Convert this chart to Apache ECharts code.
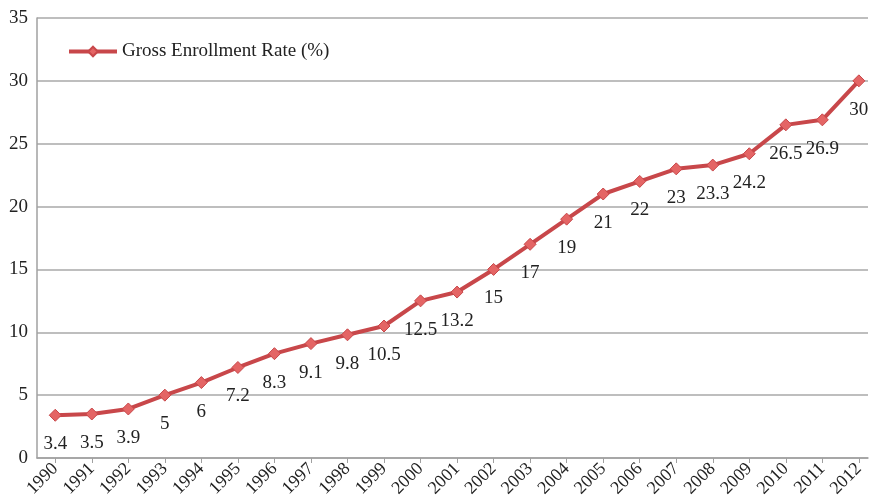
<!DOCTYPE html>
<html>
<head>
<meta charset="utf-8">
<script src="https://cdn.jsdelivr.net/npm/echarts@6/dist/echarts.min.js"></script>
<style>html,body{margin:0;padding:0;background:#fff}#c{width:872px;height:500px}</style>
</head>
<body>
<div id="c"></div>
<script>
var years = [1990,1991,1992,1993,1994,1995,1996,1997,1998,1999,2000,2001,2002,2003,2004,2005,2006,2007,2008,2009,2010,2011,2012];
var rates = [3.4,3.5,3.9,5,6,7.2,8.3,9.1,9.8,10.5,12.5,13.2,15,17,19,21,22,23,23.3,24.2,26.5,26.9,30];
var seriesName = 'Gross Enrollment Rate (%)';

var font = 'Liberation Serif, Times New Roman, serif';
var chart = echarts.init(document.getElementById('c'), null, {renderer:'canvas'});
chart.setOption({
  animation: false,
  backgroundColor: '#fff',
  grid: {left: 37, top: 18, right: 4, bottom: 42, containLabel: false},
  legend: {
    left: 62, top: 37, itemWidth: 48, itemHeight: 12, itemGap: 8,
    lineStyle: {width: 4, color: '#c8474a'},
    textStyle: {fontFamily: font, fontSize: 19, color: '#222'},
    data: [seriesName]
  },
  xAxis: {
    type: 'value', min: 1989.5, max: 2012.25,
    axisLine: {show: true, lineStyle: {color: '#a0a0a0', width: 1.5}},
    axisTick: {show: true, length: 5, customValues: years, lineStyle: {color: '#a0a0a0', width: 1}},
    axisLabel: {customValues: years, rotate: 45, margin: 8, fontFamily: font, fontSize: 18, color: '#222',
      formatter: function(v){ return String(v); }},
    splitLine: {show: false}
  },
  yAxis: {
    type: 'value', min: 0, max: 35, interval: 5,
    axisLine: {show: true, lineStyle: {color: '#a0a0a0', width: 1.5}},
    axisTick: {show: false},
    axisLabel: {margin: 9, fontFamily: font, fontSize: 19, color: '#222'},
    splitLine: {show: true, lineStyle: {color: '#a8a8a8', width: 1.5}}
  },
  series: [{
    name: seriesName,
    type: 'line',
    data: years.map(function(y, i){ return [y, rates[i]]; }),
    lineStyle: {color: '#c8474a', width: 4},
    symbol: 'diamond', symbolSize: 12,
    itemStyle: {color: '#e46565', borderColor: '#c8474a', borderWidth: 1},
    label: {show: true, position: 'bottom', distance: 13, fontFamily: font, fontSize: 19, color: '#222',
      formatter: function(p){ return String(p.value[1]); }}
  }]
});
</script>
</body>
</html>
